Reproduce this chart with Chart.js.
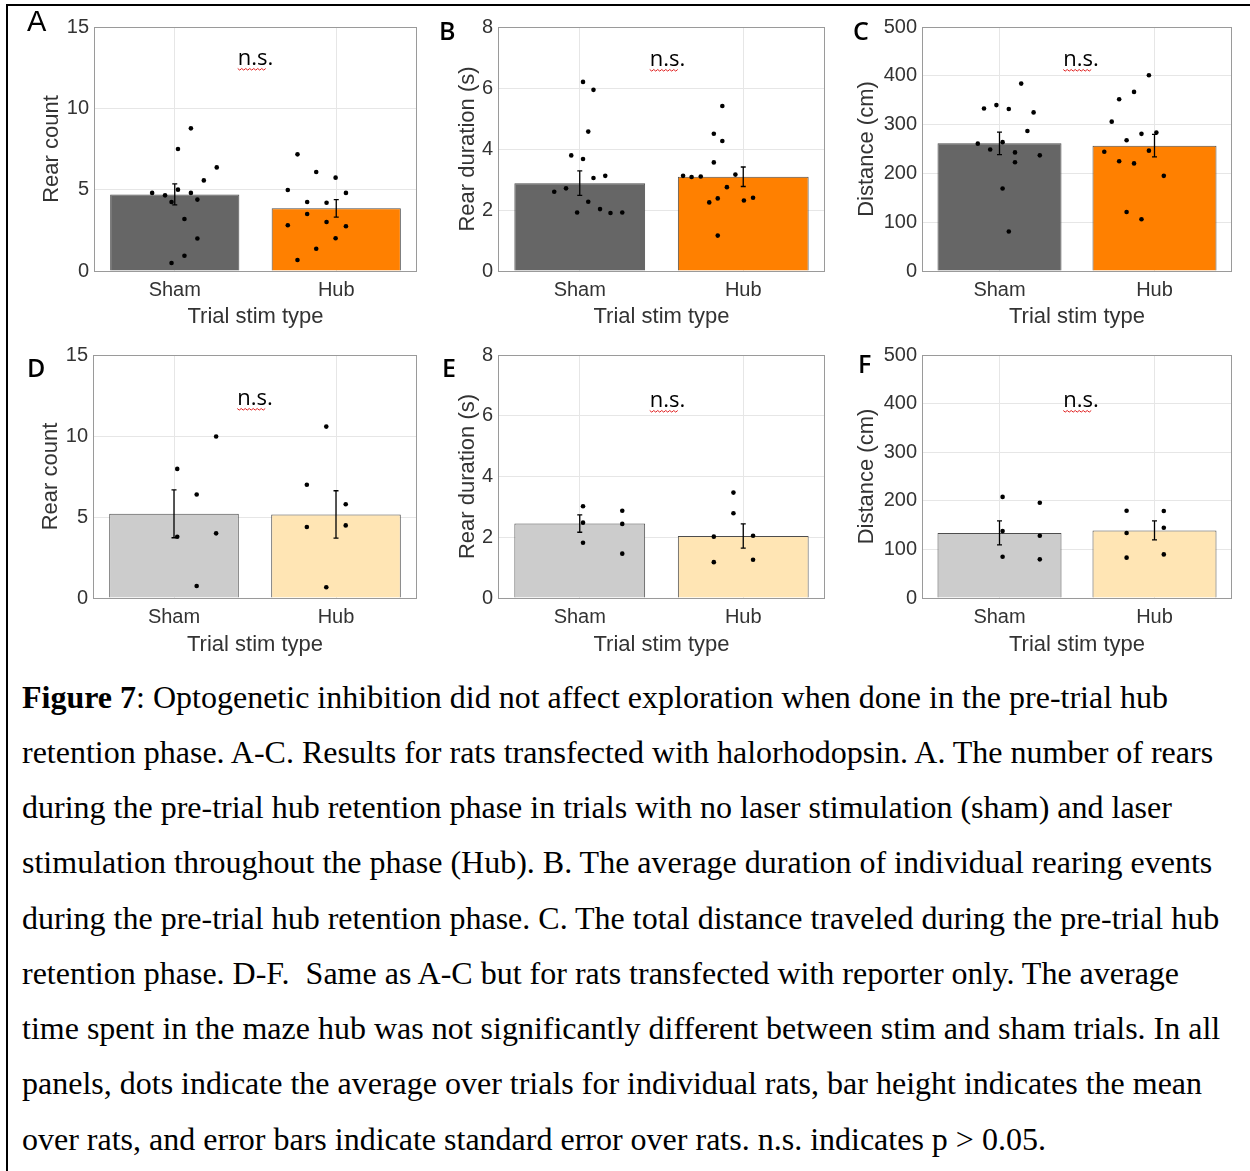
<!DOCTYPE html>
<html>
<head>
<meta charset="utf-8">
<script src="https://cdn.jsdelivr.net/npm/chart.js@4.4.1/dist/chart.umd.min.js"></script>
<style>
    body { margin: 0; background: #fff; width: 1250px; height: 1171px; position: relative; overflow: hidden; }
    .frame-top { position: absolute; left: 6px; top: 4px; width: 1244px; height: 2px; background: #000; }
    .frame-left { position: absolute; left: 6px; top: 4px; width: 2px; height: 1167px; background: #000; }
    canvas { position: absolute; }
    #caption { position: absolute; left: 22px; top: 669.6px; font-family: "Liberation Serif", "Times New Roman", serif;
               font-size: 32px; line-height: 55.25px; color: #000; white-space: pre; }
</style>
</head>
<body>
<div class="frame-top"></div>
<div class="frame-left"></div>
<div id="caption"><div><b>Figure 7</b>: Optogenetic inhibition did not affect exploration when done in the pre-trial hub</div><div>retention phase. A-C. Results for rats transfected with halorhodopsin. A. The number of rears</div><div>during the pre-trial hub retention phase in trials with no laser stimulation (sham) and laser</div><div>stimulation throughout the phase (Hub). B. The average duration of individual rearing events</div><div>during the pre-trial hub retention phase. C. The total distance traveled during the pre-trial hub</div><div>retention phase. D-F.  Same as A-C but for rats transfected with reporter only. The average</div><div>time spent in the maze hub was not significantly different between stim and sham trials. In all</div><div>panels, dots indicate the average over trials for individual rats, bar height indicates the mean</div><div>over rats, and error bars indicate standard error over rats. n.s. indicates p &gt; 0.05.</div></div>

<script>
// Categories and axis ranges
const categories = ['Sham', 'Hub'];
const xTitle = 'Trial stim type';
const yTitles = ['Rear count', 'Rear duration (s)', 'Distance (cm)'];
const yMaxes = [15, 8, 500];
const ySteps = [5, 2, 100];

// Halorhodopsin rats (A-C): bar means and standard errors
const meanA = [4.71, 3.85];
const semA = [0.65, 0.54];
const meanB = [2.88, 3.09];
const semB = [0.40, 0.32];
const meanC = [261.6, 256.8];
const semC = [23, 23];

// Reporter-only rats (D-F)
const meanD = [5.20, 5.16];
const semD = [1.48, 1.46];
const meanE = [2.45, 2.04];
const semE = [0.285, 0.40];
const meanF = [134, 139];
const semF = [24.5, 19.5];

// Individual rats: [jittered category position, value]
const dotsA = [
    [0.70, 4.80], [0.80, 4.65], [0.85, 4.24], [0.85, 0.49], [0.90, 5.0], [0.90, 7.5], [0.95, 3.2],
    [0.95, 0.94], [1.00, 8.77], [1.00, 4.8], [1.05, 4.39], [1.05, 2.0], [1.10, 5.57], [1.20, 6.37],
    [1.75, 4.98], [1.75, 2.81], [1.825, 7.17], [1.825, 0.68], [1.90, 4.24], [1.90, 3.5], [1.97, 6.09],
    [1.97, 1.37], [2.05, 4.2], [2.05, 3.01], [2.12, 5.74], [2.12, 2.01], [2.20, 4.80], [2.20, 2.75]
];
const dotsB = [
    [0.68, 2.60], [0.77, 2.71], [0.81, 3.79], [0.855, 1.92], [0.90, 6.20], [0.90, 3.67], [0.94, 4.57],
    [0.94, 2.27], [0.98, 5.94], [0.98, 3.05], [1.03, 2.03], [1.07, 3.12], [1.11, 1.90], [1.20, 1.92],
    [1.665, 3.12], [1.73, 3.08], [1.80, 3.10], [1.865, 2.25], [1.90, 4.50], [1.90, 3.56], [1.93, 2.38],
    [1.93, 1.16], [1.965, 5.41], [1.965, 4.26], [2.00, 2.75], [2.065, 3.16], [2.13, 2.31], [2.20, 2.40]
];
const dotsC = [
    [0.70, 261], [0.75, 333], [0.80, 249], [0.85, 340], [0.90, 264], [0.90, 169], [0.95, 332],
    [0.95, 81], [1.00, 243], [1.00, 223], [1.05, 384], [1.10, 287], [1.15, 325], [1.20, 237],
    [1.72, 244.5], [1.78, 306], [1.84, 352], [1.84, 225], [1.90, 268], [1.90, 121], [1.96, 367],
    [1.96, 220.5], [2.02, 281], [2.02, 106], [2.08, 401], [2.08, 246.6], [2.14, 283.6], [2.20, 195]
];
const dotsD = [
    [0.90, 7.97], [0.90, 3.78], [1.05, 6.39], [1.05, 0.74], [1.20, 9.97], [1.20, 3.99],
    [1.90, 6.99], [1.90, 4.38], [2.05, 10.58], [2.05, 0.66], [2.20, 5.79], [2.20, 4.48]
];
const dotsE = [
    [0.90, 3.02], [0.90, 2.48], [0.90, 1.82], [1.20, 2.87], [1.20, 2.44], [1.20, 1.46],
    [1.90, 2.02], [1.90, 1.18], [2.05, 3.47], [2.05, 2.79], [2.20, 2.05], [2.20, 1.26]
];
const dotsF = [
    [0.90, 208], [0.90, 137.7], [0.90, 85], [1.20, 196], [1.20, 128], [1.20, 79.5],
    [1.90, 179.5], [1.90, 133.6], [1.90, 83], [2.20, 179], [2.20, 144.5], [2.20, 89.7]
];

// Colours
const darkColors = ['#666666', '#ff8000'];
const lightColors = ['#cccccc', '#ffe5b4'];

// Panel placement (page pixels)
const panels = [
    { letter: 'A', mean: meanA, sem: semA, dots: dotsA, metric: 0, colors: darkColors,
      left: 20, top: 0, w: 410, h: 335, plotL: 94, plotR: 417, plotT: 27, plotB: 271,
      titleX: 52, nsDx: 0, nsBase: 38, letterX: 27, letterBase: 30.5, letterFont: '400 29px "Liberation Sans", Arial' },
    { letter: 'B', mean: meanB, sem: semB, dots: dotsB, metric: 1, colors: darkColors,
      left: 430, top: 0, w: 410, h: 335, plotL: 498, plotR: 825, plotT: 27, plotB: 271,
      titleX: 468, nsDx: 6, nsBase: 39, letterX: 439, letterBase: 39.5 },
    { letter: 'C', mean: meanC, sem: semC, dots: dotsC, metric: 2, colors: darkColors,
      left: 840, top: 0, w: 410, h: 335, plotL: 922, plotR: 1232, plotT: 27, plotB: 271,
      titleX: 867, nsDx: 4, nsBase: 39, letterX: 853, letterBase: 40 },
    { letter: 'D', mean: meanD, sem: semD, dots: dotsD, metric: 0, colors: lightColors,
      left: 20, top: 335, w: 410, h: 328, plotL: 93, plotR: 417, plotT: 355, plotB: 598,
      titleX: 51, nsDx: 0, nsBase: 50, letterX: 27, letterBase: 377 },
    { letter: 'E', mean: meanE, sem: semE, dots: dotsE, metric: 1, colors: lightColors,
      left: 430, top: 335, w: 410, h: 328, plotL: 498, plotR: 825, plotT: 355, plotB: 598,
      titleX: 468, nsDx: 6, nsBase: 52, letterX: 442, letterBase: 377 },
    { letter: 'F', mean: meanF, sem: semF, dots: dotsF, metric: 2, colors: lightColors,
      left: 840, top: 335, w: 410, h: 328, plotL: 922, plotR: 1232, plotT: 355, plotB: 598,
      titleX: 867, nsDx: 4, nsBase: 52, letterX: 858, letterBase: 373 }
];

const sansFont = '"Liberation Sans", Arial, sans-serif';

// Error bars, axes box, "n.s." and panel letter
const panelDecor = {
    id: 'panelDecor',
    afterDatasetsDraw(chart) {
        const p = chart.options.plugins.panelDecor;
        const ctx = chart.ctx;
        const area = chart.chartArea;
        const xScale = chart.scales.x;
        const yScale = chart.scales.y;

        ctx.save();
        // error bars
        ctx.strokeStyle = '#000';
        ctx.lineWidth = 1.3;
        p.mean.forEach((m, i) => {
            const x = xScale.getPixelForValue(i);
            const yHi = yScale.getPixelForValue(m + p.sem[i]);
            const yLo = yScale.getPixelForValue(m - p.sem[i]);
            ctx.beginPath();
            ctx.moveTo(x, yHi); ctx.lineTo(x, yLo);
            ctx.moveTo(x - 2.5, yHi); ctx.lineTo(x + 2.5, yHi);
            ctx.moveTo(x - 2.5, yLo); ctx.lineTo(x + 2.5, yLo);
            ctx.stroke();
        });

        // axes box
        ctx.strokeStyle = '#9a9a9a';
        ctx.lineWidth = 1;
        ctx.strokeRect(area.left + 0.5, area.top + 0.5, area.right - area.left - 1, area.bottom - area.top);

        // n.s. with spell-check squiggle
        ctx.font = '22px "Open Sans", sans-serif';
        ctx.fillStyle = '#000';
        ctx.textAlign = 'left';
        ctx.textBaseline = 'alphabetic';
        const full = ctx.measureText('n.s.').width;
        const part = ctx.measureText('n.s').width;
        const nsX = (area.left + area.right) / 2 + p.nsDx - full / 2;
        const nsY = area.top + p.nsBase;
        ctx.fillText('n.s.', nsX, nsY);
        ctx.strokeStyle = '#e02020';
        ctx.lineWidth = 1;
        ctx.beginPath();
        for (let x = 0; x <= part; x += 2) {
            const y = nsY + 3.5 + ((x / 2) % 2 === 0 ? 0 : 1.6);
            if (x === 0) ctx.moveTo(nsX + x, y); else ctx.lineTo(nsX + x, y);
        }
        ctx.stroke();

        // panel letter
        ctx.font = p.letterFont || '600 25px "Open Sans", sans-serif';
        ctx.fillStyle = '#000';
        ctx.fillText(p.letter, p.letterX, p.letterBase);
        ctx.restore();
    }
};

function makePanel(p) {
    const canvas = document.createElement('canvas');
    canvas.width = p.w;
    canvas.height = p.h;
    canvas.style.left = p.left + 'px';
    canvas.style.top = p.top + 'px';
    document.body.appendChild(canvas);

    const yWidth = p.plotL - p.left;
    const xHeight = p.top + p.h - p.plotB;

    new Chart(canvas.getContext('2d'), {
        type: 'bar',
        data: {
            labels: categories,
            datasets: [
                {
                    type: 'scatter',
                    data: p.dots.map(d => ({ x: d[0], y: d[1] })),
                    xAxisID: 'xs',
                    pointRadius: 2.3,
                    pointBackgroundColor: '#000',
                    pointBorderWidth: 0,
                    order: 1
                },
                {
                    type: 'bar',
                    data: p.mean,
                    xAxisID: 'x',
                    grouped: false,
                    backgroundColor: p.colors,
                    borderColor: '#4d4d4d',
                    borderWidth: 1,
                    barPercentage: 0.8,
                    categoryPercentage: 1,
                    order: 3
                }
            ]
        },
        options: {
            responsive: false,
            animation: false,
            devicePixelRatio: 1,
            layout: { padding: { top: p.plotT - p.top, right: p.left + p.w - p.plotR, left: 0, bottom: 0 } },
            plugins: {
                legend: { display: false },
                tooltip: { enabled: false },
                panelDecor: {
                    mean: p.mean, sem: p.sem, nsDx: p.nsDx, nsBase: p.nsBase, letter: p.letter,
                    letterX: p.letterX - p.left, letterBase: p.letterBase - p.top, letterFont: p.letterFont
                }
            },
            scales: {
                x: {
                    type: 'category',
                    offset: true,
                    grid: { offset: false, color: '#e6e6e6', drawTicks: false },
                    border: { display: false },
                    ticks: { color: '#333', padding: 7.5, font: { family: sansFont, size: 20 } },
                    title: { display: true, text: xTitle, color: '#333', padding: { top: 0, bottom: 4.5 },
                             font: { family: sansFont, size: 22 } },
                    afterFit(scale) { scale.height = xHeight; }
                },
                xs: { type: 'linear', display: false, min: 0.5, max: 2.5 },
                y: {
                    min: 0,
                    max: yMaxes[p.metric],
                    grid: { color: '#e6e6e6', drawTicks: false },
                    border: { display: false },
                    ticks: { stepSize: ySteps[p.metric], color: '#333', padding: 5, font: { family: sansFont, size: 20 } },
                    title: { display: true, text: yTitles[p.metric], color: '#333',
                             padding: { top: p.titleX - p.left - 13.2, bottom: 0 },
                             font: { family: sansFont, size: 22 } },
                    afterFit(scale) { scale.width = yWidth; }
                }
            }
        },
        plugins: [panelDecor]
    });
}

document.addEventListener('DOMContentLoaded', function() {
    panels.forEach(makePanel);
});
</script>
</body>
</html>
